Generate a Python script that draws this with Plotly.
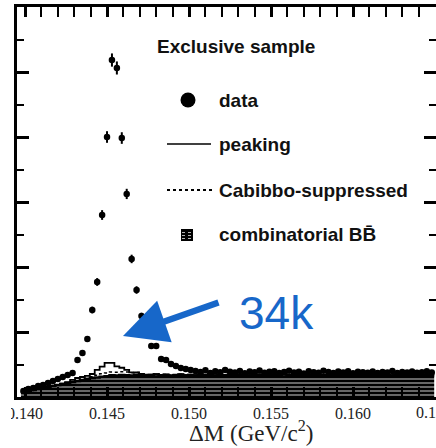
import numpy as np
import plotly.graph_objects as go

# ---------------- data (events per 0.3 MeV bin) ----------------
BIN_START = 0.1399
BIN_WIDTH = 0.0003

data_counts = [
    46, 62, 69, 85, 92, 108, 123, 138, 154, 169, 185,
    285, 338, 446, 669, 885, 1400, 2000, 2592, 2531, 1992, 1562, 1062, 823,
    623, 500, 392, 392, 292, 285, 254, 238, 223, 215, 208,
    200, 192, 205, 185, 198, 190, 208, 195, 188, 200, 182, 196, 190, 203,
    186, 194, 199, 184, 192, 201, 188, 195, 180, 198, 190, 186, 202, 193,
    185, 196, 189, 199, 183, 194, 190, 187, 197, 185, 192, 188, 200, 184,
    193, 189, 196, 186, 191, 198, 188,
]

comb_counts = [
    38, 46, 54, 62, 69, 77, 85, 92, 100, 108, 115, 123, 131, 138, 146, 150,
    156, 160,
    168, 166, 170, 168, 165, 171, 168, 166, 169, 173, 167, 170, 164, 168,
    172, 166, 169, 165, 171, 168, 174, 166, 169, 167, 170, 165, 168, 172,
    166, 169, 171, 165, 168, 170, 166, 173, 167, 169, 165, 171, 168, 166,
    170, 168, 164, 169, 172, 167, 170, 166, 168, 171, 165, 169, 167, 170,
    168, 166, 171, 168, 165, 169, 170, 167, 168, 166,
]

cs_counts = [
    1, 1, 1, 1, 1, 1, 2, 2, 2, 2, 2, 2, 2, 5, 10, 18, 22, 24, 24, 24, 24, 24,
    22, 18, 10, 5, 3, 3, 3, 3, 3, 3, 3, 3, 3, 3, 3, 3, 3, 3, 3, 3, 3, 3, 3,
    3, 3, 3, 3, 3, 3, 3, 3, 3, 3, 3, 3, 3, 3, 3, 3, 3, 3, 3, 3, 3, 3, 3, 3,
    3, 3, 3, 3, 3, 3, 3, 3, 3, 3, 3, 3, 3, 3, 3,
]

peak_counts = [
    0, 0, 0, 0, 0, 0, 0, 0, 0, 5, 14, 21, 21, 19, 21, 40, 56, 78, 70, 46, 31,
    16, 2, 0, 0, 0, 0, 0, 0, 0, 0, 0, 0, 0, 0, 0, 0, 0, 0, 0, 0, 0, 0, 0, 0,
    0, 0, 0, 0, 0, 0, 0, 0, 0, 0, 0, 0, 0, 0, 0, 0, 0, 0, 0, 0, 0, 0, 0, 0,
    0, 0, 0, 0, 0, 0, 0, 0, 0, 0, 0, 0, 0, 0, 0,
]

x_tick_vals = [0.140, 0.145, 0.150, 0.155, 0.160]
x_tick_text = ["0.140", "0.145", "0.150", "0.155", "0.160"]
x_edge_label = "0.1"          # the 0.165 label, cut by the image edge
legend_title = "Exclusive sample"
legend_labels = ["data", "peaking", "Cabibbo-suppressed", "combinatorial BB\u0304"]
big_label = "34k"
x_title = "\u0394M (GeV/c<sup>2</sup>)"

# ---------------- derived arrays ----------------
n = len(data_counts)
centers = BIN_START + BIN_WIDTH * np.arange(n)
edges_x = np.append(centers - BIN_WIDTH / 2, centers[-1] + BIN_WIDTH / 2)

comb = np.array(comb_counts, float)
cs_stack = comb + np.array(cs_counts, float)
peak_stack = cs_stack + np.array(peak_counts, float)


def steps(v):
    return np.append(v, v[-1])


W, H = 436, 448
ML, MR, MT, MB = 17, 0, 7, 51
PW, PH = W - ML - MR, H - MT - MB


def pxx(x):
    return (x - ML) / PW


def pxy(y):
    return (H - MB - y) / PH


fig = go.Figure()

fig.add_trace(go.Scatter(
    x=edges_x, y=steps(comb), mode="lines", line_shape="hv",
    line=dict(color="black", width=2.5), fill="tozeroy",
    fillpattern=dict(shape="-", bgcolor="white", fgcolor="black", size=4,
                     solidity=0.8, fillmode="replace"),
    showlegend=False, hoverinfo="skip"))

fig.add_trace(go.Scatter(
    x=edges_x, y=steps(cs_stack), mode="lines", line_shape="hv",
    line=dict(color="black", width=1.5, dash="dot"),
    showlegend=False, hoverinfo="skip"))

fig.add_trace(go.Scatter(
    x=edges_x, y=steps(peak_stack), mode="lines", line_shape="hv",
    line=dict(color="black", width=1.8),
    showlegend=False, hoverinfo="skip"))

fig.add_trace(go.Scatter(
    x=centers, y=data_counts, mode="markers",
    marker=dict(color="black", size=6.5),
    error_y=dict(type="data", array=np.sqrt(np.array(data_counts, float)),
                 color="black", thickness=2, width=0),
    showlegend=False, hoverinfo="skip"))

# empty trace that carries the right-hand tick axis
fig.add_trace(go.Scatter(x=[None], y=[None], yaxis="y2", showlegend=False,
                         hoverinfo="skip"))

# ---------------- legend (drawn by hand) ----------------
lab_font = dict(family="Liberation Sans", size=19, color="#111111")
shapes = []
annotations = []

annotations.append(dict(xref="paper", yref="paper", x=pxx(155), y=pxy(47),
                        xanchor="left", yanchor="middle", text="<b>" + legend_title + "</b>",
                        showarrow=False, font=lab_font))
rows_y = [100, 144, 190, 235]
for lab, yy in zip(legend_labels, rows_y):
    annotations.append(dict(xref="paper", yref="paper", x=pxx(217), y=pxy(yy),
                            xanchor="left", yanchor="middle", text="<b>" + lab + "</b>",
                            showarrow=False, font=lab_font))
# data marker
shapes.append(dict(type="circle", xref="paper", yref="paper",
                   x0=pxx(180.5), x1=pxx(195.5), y0=pxy(107.5), y1=pxy(92.5),
                   fillcolor="black", line=dict(color="black", width=0)))
# peaking line
shapes.append(dict(type="line", xref="paper", yref="paper",
                   x0=pxx(167), x1=pxx(211), y0=pxy(144), y1=pxy(144),
                   line=dict(color="black", width=1.5)))
# Cabibbo-suppressed dashed line
shapes.append(dict(type="line", xref="paper", yref="paper",
                   x0=pxx(167), x1=pxx(214), y0=pxy(190), y1=pxy(190),
                   line=dict(color="black", width=1.8, dash="dot")))
# combinatorial box
shapes.append(dict(type="rect", xref="paper", yref="paper",
                   x0=pxx(181), x1=pxx(193), y0=pxy(241), y1=pxy(229),
                   fillcolor="black", line=dict(color="black", width=0)))
for yy in [232.5, 235.5, 238.5]:
    shapes.append(dict(type="line", xref="paper", yref="paper",
                       x0=pxx(182), x1=pxx(192), y0=pxy(yy), y1=pxy(yy),
                       line=dict(color="white", width=0.7, dash="dot")))
# the original image is cropped a little at its left edge
shapes.append(dict(type="rect", xref="paper", yref="paper",
                   x0=pxx(-2), x1=pxx(11), y0=pxy(426), y1=pxy(401),
                   fillcolor="white", line=dict(width=0), layer="above"))

# ---------------- 34k + arrow ----------------
annotations.append(dict(xref="paper", yref="paper", x=pxx(276), y=pxy(313),
                        xanchor="center", yanchor="middle", text=big_label,
                        showarrow=False,
                        font=dict(family="Liberation Sans", size=46, color="#1767C9")))
annotations.append(dict(xref="paper", yref="paper", x=pxx(123), y=pxy(336),
                        ax=97, ay=-34, axref="pixel", ayref="pixel",
                        text="", showarrow=True, arrowhead=2, arrowsize=1.35,
                        arrowwidth=6.5, arrowcolor="#1767C9"))

# partially visible last tick label at the right edge
annotations.append(dict(xref="paper", yref="paper", x=pxx(414), y=pxy(412),
                        xanchor="left", yanchor="middle", text=x_edge_label,
                        showarrow=False,
                        font=dict(family="Liberation Serif", size=16, color="#222222")))

# x-axis title
annotations.append(dict(xref="paper", yref="paper", x=pxx(251), y=pxy(432),
                        xanchor="center", yanchor="middle", text=x_title,
                        showarrow=False,
                        font=dict(family="Liberation Serif", size=23, color="#222222")))

ytick_common = dict(range=[0, 3000], showgrid=False, zeroline=False,
                    ticks="inside", ticklen=12, tickwidth=2.5, tickcolor="black",
                    dtick=500, tick0=0, showticklabels=False,
                    minor=dict(dtick=250, tick0=0, ticks="inside", ticklen=7,
                               tickwidth=2, tickcolor="black", showgrid=False))

fig.update_layout(
    width=W, height=H,
    margin=dict(l=ML, r=MR, t=MT, b=MB),
    paper_bgcolor="white", plot_bgcolor="white",
    shapes=shapes, annotations=annotations,
    xaxis=dict(range=[0.13951, 0.16506], showgrid=False, zeroline=False,
               showline=True, linecolor="black", linewidth=2.5, mirror="allticks",
               ticks="inside", ticklen=10, tickwidth=2.5, tickcolor="black",
               tickvals=x_tick_vals, ticktext=x_tick_text,
               tickfont=dict(family="Liberation Serif", size=16, color="#222222"),
               minor=dict(dtick=0.001, tick0=0.140, ticks="inside", ticklen=5,
                          tickwidth=2, tickcolor="black", showgrid=False)),
    yaxis=dict(showline=True, linecolor="black", linewidth=2.5, mirror=False,
               **ytick_common),
    yaxis2=dict(overlaying="y", side="right", showline=False, **ytick_common),
)

fig.write_html("out.html",
               config={"displayModeBar": False},
               post_script=(
                   "document.body.style.margin='0';"
                   "document.body.style.overflow='hidden';"
               ))
